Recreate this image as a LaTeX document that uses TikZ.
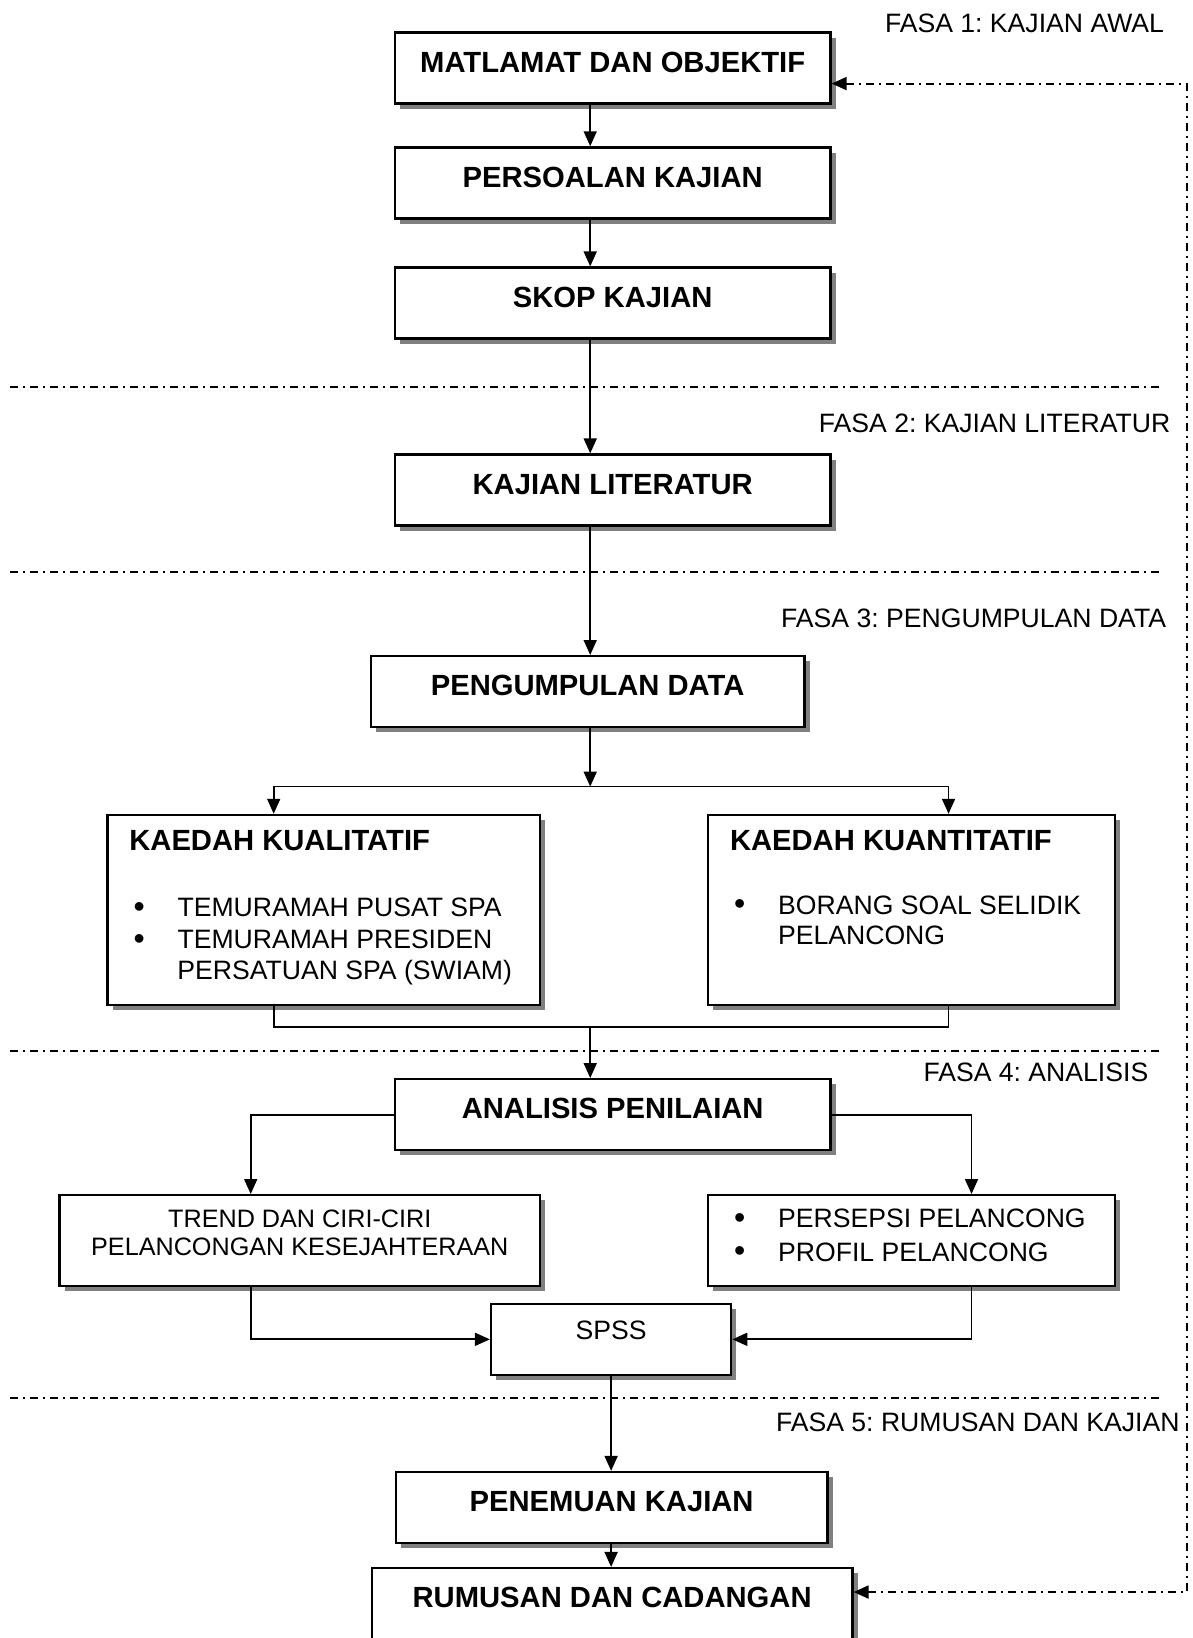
\documentclass[tikz,border=0pt]{standalone}
\usepackage{fontspec}
\setmainfont{Liberation Sans}
\usetikzlibrary{shadows,arrows.meta}

\newcommand{\itembul}{\makebox[22pt][l]{\raisebox{-0.4pt}{\fontsize{16}{16}\selectfont\textbullet}}}

\begin{document}
\frenchspacing
\begin{tikzpicture}[x=0.5223pt,y=-0.5223pt,line width=0.85pt,>={Triangle[length=7.5pt,width=6.5pt]}]
            \tikzstyle{box}=[draw=black,line width=1.15pt,fill=white,inner sep=0pt,anchor=north,
                drop shadow={shadow xshift=2.6pt,shadow yshift=-2.6pt,fill=black!50,opacity=1}]
            \tikzstyle{title}=[box,minimum height=35.5pt,text height=19.8pt,text depth=15.7pt,
                font=\fontsize{14.6}{17}\selectfont\bfseries]
            \tikzstyle{line}=[inner sep=0pt,anchor=west,text height=9.5pt,text depth=0pt,
                font=\fontsize{13.3}{16}\selectfont]
            \tikzstyle{head}=[line,text height=10.45pt,font=\fontsize{14.6}{17}\selectfont\bfseries]
            \tikzstyle{phase}=[line,anchor=east]
            \tikzstyle{sep}=[line width=1pt,dash pattern=on 4pt off 2.5pt on 1pt off 2.5pt]
            \tikzstyle{back}=[sep,<->]

            \useasboundingbox (0,0) rectangle (1142,1568);

            % fasa
            \foreach \y in {370,548,1006,1338}
                    \draw[sep] (10,\y) -- (1112,\y);
            \foreach \name/\x/\y/\txt in {f1/1115/22/FASA 1: KAJIAN AWAL, f2/1121/405/FASA 2: KAJIAN LITERATUR,
                    f3/1117/592/FASA 3: PENGUMPULAN DATA, f4/1100/1026/FASA 4: ANALISIS,
                    f5/1130/1361/FASA 5: RUMUSAN DAN KAJIAN}
                    \node[phase] (\name) at (\x,\y) {\txt};

            % kotak utama
            \foreach \name/\x/\y/\w/\txt in {matl/586.5/30/217.8/MATLAMAT DAN OBJEKTIF, pers/586.5/140/217.8/PERSOALAN KAJIAN,
                    skop/586.5/255/217.8/SKOP KAJIAN, lit/586.5/434/217.8/KAJIAN LITERATUR,
                    pdata/562.5/627/216.8/PENGUMPULAN DATA, anal/586.5/1032/217.8/ANALISIS PENILAIAN,
                    penem/585.5/1408/215.7/PENEMUAN KAJIAN}
                    \node[title,minimum width=\w*1pt] (\name) at (\x,\y) {\txt};
            \node[title,minimum width=240.3pt,minimum height=45pt,text depth=25.2pt] (rumus) at (586,1500) {RUMUSAN DAN CADANGAN};
            \node[box,minimum width=120.1pt,minimum height=35.5pt,text height=17.8pt,text depth=17.7pt,
                font=\fontsize{13.3}{16}\selectfont] (spss) at (585,1247) {SPSS};

            % kaedah
            \node[box,minimum width=216.2pt,minimum height=95.1pt] (kual) at (310,779) {};
            \node[box,minimum width=203.2pt,minimum height=95.1pt] (kuan) at (872.5,779) {};
            \node[box,minimum width=240.3pt,minimum height=45.4pt] (trend) at (287,1143) {};
            \node[box,minimum width=203.2pt,minimum height=45.4pt] (persp) at (872.5,1143) {};

            \node[head] (kual-h) at (123,804) {KAEDAH KUALITATIF};
            \node[head] (kuan-h) at (698,804) {KAEDAH KUANTITATIF};
            \foreach \name/\x/\y/\txt in {kual-1/127/868/\itembul TEMURAMAH PUSAT SPA, kual-2/127/899/\itembul TEMURAMAH PRESIDEN,
                    kual-3/169/929/PERSATUAN SPA (SWIAM), kuan-1/702/866/\itembul BORANG SOAL SELIDIK,
                    kuan-2/744/895/PELANCONG, persp-1/702/1166/\itembul PERSEPSI PELANCONG,
                    persp-2/702/1198/\itembul PROFIL PELANCONG}
                    \node[line] (\name) at (\x,\y) {\txt};
            \foreach \name/\y/\txt in {trend-1/1166/TREND DAN CIRI-CIRI, trend-2/1193/PELANCONGAN KESEJAHTERAAN}
                    \node[line,anchor=center,font=\fontsize{12.6}{15}\selectfont] (\name) at (287,\y) {\txt};

            % anak panah
            \coordinate (spine) at (565,0);
            \coordinate (spine2) at (585,0);
            \coordinate (kl) at (262,0);
            \coordinate (kr) at (908,0);
            \coordinate (al) at (240,0);
            \coordinate (ar) at (930,0);
            \coordinate (split) at (565,753);
            \coordinate (merge) at (565,983);
            \coordinate (fbtop) at (1136,80);
            \coordinate (fbbot) at (1136,1524);

            \foreach \from/\to in {matl/pers, pers/skop, skop/lit, lit/pdata}
                    \draw[->] (\from.south -| spine) -- (\to.north -| spine);
            \draw[->] (pdata.south -| spine) -- (split);
            \draw[->] (split) -| (kual.north -| kl);
            \draw[->] (split) -| (kuan.north -| kr);
            \draw (kual.south -| kl) |- (merge) -| (kuan.south -| kr);
            \draw[->] (merge) -- (anal.north -| spine);
            \draw[->] (anal.west) -| (trend.north -| al);
            \draw[->] (anal.east) -| (persp.north -| ar);
            \draw[->] (trend.south -| al) |- (spss.west);
            \draw[->] (persp.south -| ar) |- (spss.east);
            \foreach \from/\to in {spss/penem, penem/rumus}
                    \draw[->] (\from.south -| spine2) -- (\to.north -| spine2);

            \draw[back] (fbtop -| matl.east) -- (fbtop) -- (fbbot) -- (fbbot -| rumus.east);
        \end{tikzpicture}
\end{document}
